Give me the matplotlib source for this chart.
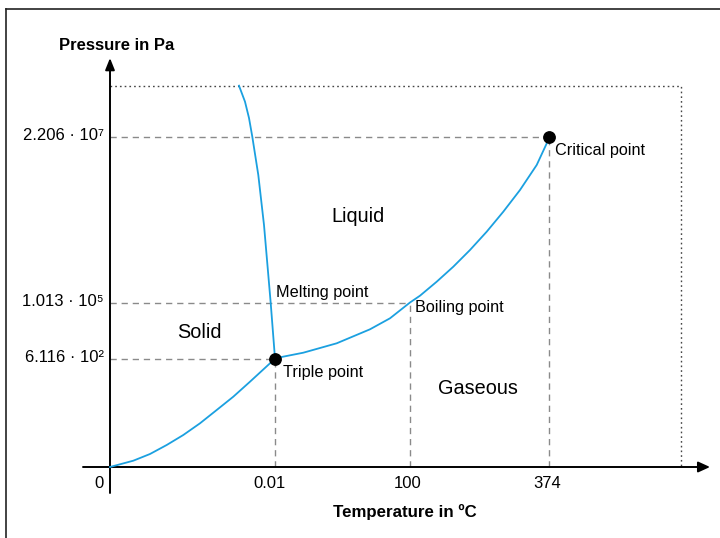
import matplotlib
matplotlib.use("Agg")
import matplotlib.pyplot as plt
from matplotlib.lines import Line2D

plt.rcParams['font.family'] = ['Liberation Sans', 'DejaVu Sans']

# ---- data (schematic diagram units: origin at the axes crossing) ----
temp_labels = ["0", "0.01", "100", "374"]
pressure_labels = ["6.116 · 10²", "1.013 · 10⁵", "2.206 · 10⁷"]

triple_point = (165, 108.5)
boiling_point = (300, 164.5)
critical_point = (439, 330.3)
melting_level = 164.5
diagram_top = 381
diagram_right = 571

sublimation_x = [0, 23.3, 40, 56.7, 73.3, 90, 106.7, 123.3, 140, 160, 165]
sublimation_y = [0, 6.3, 13, 22, 32, 43.7, 57, 70.3, 85.3, 103.7, 108.5]

melting_x = [165, 160.7, 158.3, 154, 148.3, 142.3, 139, 135, 129]
melting_y = [108.5, 164, 192, 242, 292, 330.3, 349, 365.3, 381.3]

vapor_x = [165, 170, 193.3, 226.7, 260, 280, 300, 310, 326.7, 343.3, 360,
           376.7, 393.3, 410, 426.7, 438.3, 439]
vapor_y = [108.5, 109.7, 114.3, 123.7, 137.7, 148.7, 164.5, 171.3, 185.3, 200.3,
           217, 235.3, 255.3, 277, 302, 327, 330.3]

# ---- figure ----
fig = plt.figure(figsize=(7.2, 5.38), dpi=100)
ax = fig.add_axes([0, 0, 1, 1])
ax.set_xlim(-110, 610)
ax.set_ylim(-71, 467)
ax.axis('off')

# outer frame (left and top)
fig.add_artist(Line2D([6/720, 6/720], [0, 1 - 9/538], transform=fig.transFigure,
                      color='#222222', lw=1.2))
fig.add_artist(Line2D([6/720, 1], [1 - 9/538, 1 - 9/538], transform=fig.transFigure,
                      color='#222222', lw=1.2))

blue = '#1BA0E0'
grey = '#8a8a8a'
dash = (0, (4.5, 3.5))

# guide lines
tick_x = [0, triple_point[0], boiling_point[0], critical_point[0]]
tick_y = [triple_point[1], melting_level, critical_point[1]]
for (px, py) in [triple_point, boiling_point, critical_point]:
    ax.plot([px, px], [0, py], color=grey, lw=1.0, linestyle=dash, zorder=1)
    ax.plot([0, px], [py, py], color=grey, lw=1.0, linestyle=dash, zorder=1)

# dotted limit
ax.plot([0, diagram_right, diagram_right], [diagram_top, diagram_top, 0],
        color='#444444', lw=1.0, linestyle=(0, (1.2, 2.2)), zorder=1)

# axes with arrows
ax.annotate('', xy=(600, 0), xytext=(-27, 0),
            arrowprops=dict(arrowstyle='-|>,head_length=0.7,head_width=0.32',
                            color='black', lw=1.4, shrinkA=0, shrinkB=0))
ax.annotate('', xy=(0, 409), xytext=(0, -26),
            arrowprops=dict(arrowstyle='-|>,head_length=0.7,head_width=0.28',
                            color='black', lw=1.4, shrinkA=0, shrinkB=0))

# phase curves
kw = dict(color=blue, lw=1.3, zorder=3, solid_joinstyle='round')
ax.plot(sublimation_x, sublimation_y, **kw)
ax.plot(melting_x, melting_y, **kw)
ax.plot(vapor_x, vapor_y, **kw)

# points
ax.plot([triple_point[0], critical_point[0]], [triple_point[1], critical_point[1]],
        'o', color='black', markersize=8.2, zorder=4)

# tick labels
fs_tick = 12
label_dx = [-11, -5, -2, -1.5]
for lab, x, dx in zip(temp_labels, tick_x, label_dx):
    ax.text(x + dx, -16, lab, ha='center', va='center', fontsize=fs_tick)
for lab, y in zip(pressure_labels, tick_y):
    ax.text(-6, y + 1, lab, ha='right', va='center', fontsize=fs_tick)

# axis titles
ax.text(7, 421, 'Pressure in Pa', ha='center', va='center', fontsize=12,
        fontweight='bold')
ax.text(295, -45, 'Temperature in ºC', ha='center', va='center', fontsize=12.2,
        fontweight='bold')

# region labels
fs_reg = 14.3
ax.text(248, 251, 'Liquid', ha='center', va='center', fontsize=fs_reg)
ax.text(89, 135, 'Solid', ha='center', va='center', fontsize=fs_reg)
ax.text(367.5, 79, 'Gaseous', ha='center', va='center', fontsize=fs_reg)

# point labels
fs_pt = 11.7
ax.text(166.5, 174, 'Melting point', ha='left', va='center', fontsize=fs_pt)
ax.text(305, 159.5, 'Boiling point', ha='left', va='center', fontsize=fs_pt)
ax.text(173, 94.5, 'Triple point', ha='left', va='center', fontsize=fs_pt)
ax.text(445, 317, 'Critical point', ha='left', va='center', fontsize=fs_pt)

fig.savefig('out.png', dpi=100)
